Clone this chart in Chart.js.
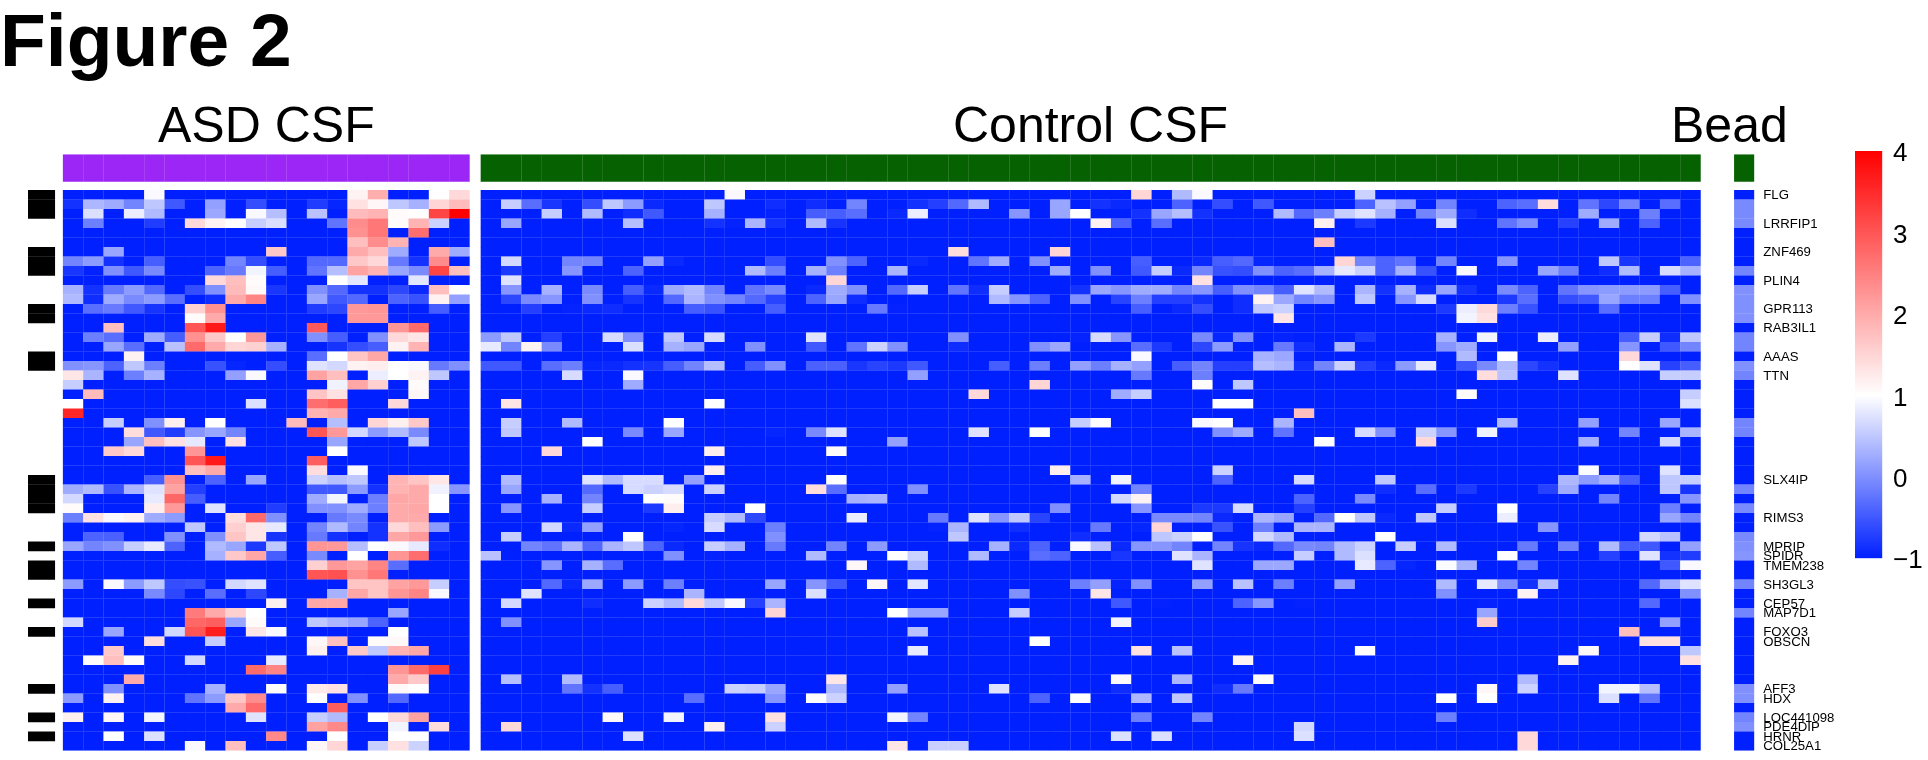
<!DOCTYPE html>
<html>
<head>
<meta charset="utf-8">
<title>Figure 2</title>
<script src="https://cdn.jsdelivr.net/npm/chart.js@4"></script>
<style>
body { margin: 0; background: #fff; width: 1928px; height: 760px; overflow: hidden; position: relative; font-family: "Liberation Sans", sans-serif; color: #000; }
canvas { position: absolute; left: 0; top: 0; }
.txt { position: absolute; line-height: 1; white-space: nowrap; }
</style>
</head>
<body>
<canvas id="heatmap" width="1928" height="760"></canvas>
<canvas id="colorKey" width="1928" height="760"></canvas>
<div class="txt" style="left:0;top:2.5px;font-size:75px;font-weight:bold">Figure 2</div>
<div class="txt" style="left:158px;top:100px;font-size:50px">ASD CSF</div>
<div class="txt" style="left:953px;top:100px;font-size:50px">Control CSF</div>
<div class="txt" style="left:1671px;top:100px;font-size:50px">Bead</div>
<script>
// values not listed in a row sit at the bottom of the colour scale
var floorValue = -1;
var rowCount = 59;
var asdColumns = 20;
var controlColumns = 60;

var geneLabels = ['FLG', 'LRRFIP1', 'ZNF469', 'PLIN4', 'GPR113', 'RAB3IL1', 'AAAS', 'TTN', 'SLX4IP', 'RIMS3', 'MPRIP', 'SPIDR', 'TMEM238', 'SH3GL3', 'CEP57', 'MAP7D1', 'FOXO3', 'OBSCN', 'AFF3', 'HDX', 'LOC441098', 'PDE4DIP', 'HRNR', 'COL25A1'];
var geneRows = [0, 3, 6, 9, 12, 14, 17, 19, 30, 34, 37, 38, 39, 41, 43, 44, 46, 47, 52, 53, 55, 56, 57, 58];
var markedRows = [0, 1, 2, 6, 7, 8, 12, 13, 17, 18, 30, 31, 32, 33, 37, 39, 40, 43, 46, 52, 55, 57];
var keyTicks = [-1, 0, 1, 2, 3, 4];

// one {column: value} per row
var asdValues = [
{4:.95,14:1.15,15:1.95,18:1,19:1.45},
{0:-.85,1:.35,2:.25,3:-.1,4:.5,5:-.5,7:.15,9:-.6,12:-.75,13:-.95,14:1.35,15:1.1,16:.5,17:.3,18:1.5,19:1.8},
{1:.72,3:.85,4:.38,7:.22,9:.95,10:.42,12:.45,14:1.8,15:1.9,16:1.05,17:1,18:3.2,19:4},
{1:-.15,4:-.75,6:1.45,7:1.15,8:1,9:.55,10:.7,13:-.25,14:2.35,15:2.6,16:1.05,17:1.9,18:.6},
{14:2.3,15:2.6,17:2.7},
{14:1.75,15:2.35,16:1.9},
{2:.2,10:1.65,14:2,15:1.75,16:.25,18:2,19:.25},
{0:-.1,1:.1,2:-.85,4:-.45,8:-.1,9:-.6,12:-.35,13:-.35,14:1.65,15:1.45,16:-.2,17:-.85,18:2.35},
{0:-.8,1:-.98,2:0,3:-.5,4:-.05,7:-.4,8:-.2,9:.9,10:-.45,12:-.25,13:.42,14:2.1,15:1.9,16:.2,17:-.05,18:3.2,19:1.75},
{7:1.45,8:1.75,9:1.05,13:1,14:.78,17:.78},
{0:.3,1:-.85,2:-.2,3:.1,4:-.35,6:-.6,7:0,8:1.8,9:1.08,10:-.8,12:0,13:-.35,14:-.85,15:-.85,16:-.65,17:-.92,18:1.75,19:1},
{0:.38,1:-.88,2:.25,3:-.05,4:.1,5:-.3,7:-.88,8:2,9:2.45,12:.2,13:-.5,14:-.35,16:-.4,17:-.55,18:1.15,19:.15},
{1:-.3,2:-.2,3:-.5,4:-.82,6:1.55,7:2.3,12:-.75,13:-.65,14:2.2,15:2.25,18:-.45},
{6:1.05,7:2,14:2.2,15:2.2},
{2:1.75,6:3,7:3.7,12:2.95,16:2.25,17:2.75},
{1:-.15,2:-.3,4:.25,5:-.45,6:2.3,7:1.65,8:1,9:2.2,12:0,13:-.45,15:0,16:1.45,17:1.3},
{2:.2,3:-.3,5:.45,6:2.75,7:2,8:1.5,9:1.55,10:.3,13:-.82,14:-.6,15:-.45,16:1.15,17:1.9},
{3:1.15,12:-.3,13:1,14:1.7,15:2.05},
{0:0,1:.05,2:-.4,3:.5,4:-.15,7:-.55,8:-.95,10:-.6,12:.75,13:.65,14:1.15,15:1.2,16:1,17:.95,18:-.2,19:0},
{0:1.3,1:.33,3:-.15,4:.3,8:.15,9:.95,12:2.1,13:1.75,15:.85,16:1,17:1.15,18:.5},
{0:.55,13:.88,14:2.05,15:1.55,17:1.05},
{1:1.8,12:1.7,13:1.35,17:1.1},
{0:1,9:.72,12:2.7,13:2.9,16:1.45},
{0:3.55,12:1.9,13:2},
{2:.55,4:0,5:1.18,7:1,11:1.8,13:.42,15:1.5,16:1.18,17:1.65},
{3:1.4,4:-.5,5:-.75,6:.05,7:.2,8:-.1,12:3,13:2.2,14:.65,15:.1,16:.38,17:-.05},
{3:.2,4:1.75,5:1.35,6:.8,8:1.35,13:.2,17:.5},
{2:1.65,3:1.45,6:2.25,13:1},
{6:3,7:3.7,12:2.9},
{6:1.75,7:2,12:1.4,14:.95},
{4:-.45,5:2.3,7:-.4,9:.2,12:.6,13:.42,14:.5,16:1.9,17:1.7,18:1.3},
{0:.25,1:.38,2:-.55,3:.33,4:.75,5:2.1,6:-.72,12:-.5,13:-.5,14:.1,15:-.85,16:1.9,17:2,18:.88,19:.05},
{0:.65,4:.82,5:2.8,6:-.45,12:.25,13:.9,15:-.15,16:2.05,17:2,18:1},
{0:1.05,4:1.2,5:2.2,7:.75,10:-.75,12:0,13:0,14:.25,15:-.15,16:2,17:2.05,18:1},
{0:-.15,1:1.35,2:.95,3:1.15,4:.25,5:.1,8:1.4,9:2.75,10:0,13:-.2,14:-.05,16:2,17:2},
{6:.5,8:1.55,9:1.3,10:.8,12:-.1,13:.38,14:-.1,15:-.85,16:1.45,17:1.75,18:.1},
{1:-.4,2:-.42,5:0,7:0,8:1.7,9:1.3,10:-.82,12:-.2,13:-.85,15:-.85,16:2.05,17:2.2},
{0:.2,1:-.1,2:0,3:.55,4:.82,5:-.4,7:.38,8:.2,9:-.78,10:.5,12:2.25,13:2.2,14:.42,15:1,16:.95,17:.8,18:-.88},
{7:.3,8:1.65,9:2.05,10:-.45,12:-.05,14:1,16:2.25,17:2.7},
{12:1.55,13:2.2,14:2.1,15:2.45,16:-.3},
{12:3,13:3.05,14:2.3,15:2.6},
{0:.1,2:.95,3:.1,4:.5,5:-.6,6:-.55,8:.65,9:.75,14:1.7,15:1.7,16:2.1,17:2.2,18:.55},
{4:-.05,5:-.65,7:-.3,9:-.65,13:.3,14:2.05,15:1.7,16:2.25,17:2.45,18:.95},
{10:1.18,12:2.05,13:2.05},
{6:2.55,7:2,8:1.55,9:1,16:.2},
{0:.65,6:2.8,7:2.9,8:.2,9:1.05,12:.5,13:.33,14:.2,15:-.4},
{2:.2,5:.65,6:3,7:3.65,9:1.3,10:.95,16:1},
{4:1.4,7:.55,12:1.1,13:1.75,15:1.05,16:1.08},
{2:1.65,12:1.18,14:1.65,15:.5,16:1.9,17:2.05},
{1:1.05,2:1.75,3:1.05,6:.65,10:.82},
{9:2.75,10:2.45,16:2.25,17:2.75,18:3.25},
{3:2,16:2,17:1.65},
{2:0,7:.3,10:1.03,12:1.25,13:1.35,16:1.08,17:1},
{0:.1,2:1.15,6:-.25,7:.1,8:1.7,9:2.35,12:1,14:0,16:-.35},
{8:2,9:2.75,13:2.9},
{0:1.18,2:1.1,4:.9,9:.75,12:.55,13:.38,15:1,16:1.45,17:2.1},
{12:2.1,13:2.4,16:.9,18:1.4},
{2:1,4:.72,10:2.4,13:1,16:1,17:1},
{6:.95,8:1.75,12:1.1,13:1.5,15:.55,16:1.35,17:.6}
];

var controlValues = [
{12:.95,32:1.5,34:.38,35:.95,43:.6},
{1:.55,2:-.3,3:-.8,5:-.6,6:.5,7:.1,8:-.92,11:.5,14:-.88,16:-.88,18:-.1,21:-.85,22:-.72,23:-.35,24:.38,28:.2,30:-.85,31:-.92,34:-.4,36:-.6,38:-.5,43:-.4,44:.45,45:.15,47:-.1,50:-.4,51:-.3,52:1.4,54:-.25,55:-.65,56:-.1,58:-.3},
{3:.55,5:.38,7:-.88,8:-.5,11:.3,14:-.97,16:-.45,17:-.45,18:-.3,20:-.92,21:.85,26:.05,28:.2,29:1,32:-.85,33:.2,34:.42,35:-.85,39:.38,40:-.35,41:-.15,42:.55,43:.75,44:.3,46:-.1,47:.25,48:-.88,54:.25,57:-.15},
{1:.2,7:.42,11:-.85,12:-.97,13:.33,14:-.85,16:.38,17:-.82,30:1.15,31:-.4,33:-.3,41:1.18,43:-.78,47:.72,50:-.25,51:0,53:-.7,55:.25,57:-.4},
{},
{41:1.75},
{23:1.4,28:1.5},
{1:.65,4:-.1,5:-.1,8:.15,9:-.92,14:-.6,17:0,18:-.4,21:-.92,24:-.25,25:.25,27:0,32:-.45,35:-.92,36:-.45,37:-.35,38:-.95,42:1.5,43:-.1,44:-.4,45:-.25,47:-.1,50:.05,55:.5,56:-.8,59:-.4},
{1:-.78,4:.05,7:-.4,13:.38,14:-.15,16:.3,17:-.15,20:.33,28:.25,30:0,32:-.5,33:.55,34:-.92,35:-.1,36:-.55,37:-.6,38:0,39:-.4,40:-.3,41:.3,42:.8,43:.6,44:-.4,45:.3,46:-.55,48:.95,52:.2,53:-.15,55:-.88,56:.38,58:.68,59:.3},
{1:.75,17:1.5,35:1.35},
{1:.05,3:.3,5:-.05,7:-.45,8:-.92,9:.25,10:.38,11:-.1,13:-.25,14:-.05,16:-.92,17:.25,18:0,20:-.35,21:.55,23:-.25,24:-.88,25:.55,29:-.85,30:.2,31:.05,32:.25,33:.25,34:-.1,35:.05,36:-.45,37:0,38:-.1,39:-.45,40:.75,41:.38,43:.33,44:-.85,45:.3,46:-.88,47:.2,48:-.85,50:-.05,51:-.4,53:-.25,54:.05,55:.1,56:.1,57:.1,58:-.45},
{1:-.65,2:-.05,3:.05,5:0,7:-.82,9:-.35,10:.33,11:0,12:-.1,13:-.35,14:-.68,16:-.4,17:.2,18:-.88,25:.38,26:.05,27:-.4,29:0,31:-.68,32:-.15,33:-.72,34:-.72,35:-.85,37:-.88,38:1.15,39:.22,40:-.1,41:.05,43:.5,45:.05,46:.68,50:-.78,51:-.3,53:-.6,54:-.5,55:.2,56:-.15,57:-.15,59:0},
{2:-.72,4:-.97,5:-.92,6:-.88,10:-.45,11:-.55,14:-.45,19:-.2,20:-.98,32:-.45,34:-.92,35:-.6,37:-.88,38:.5,39:.6,47:-.78,48:.85,49:1.45,50:-.15,51:-.55,55:-.3},
{39:1.3,48:.9,49:1.35},
{},
{0:.1,1:.5,3:-.72,6:.68,7:0,9:.5,11:.68,16:.75,23:0,29:-.97,30:.68,31:.05,35:-.05,36:-.95,37:0,39:-.97,43:-.78,47:.3,49:.9,52:.85,56:-.45,57:.55,58:-.88,59:.5},
{0:.82,1:-.1,2:1.15,3:-.05,7:.72,9:.3,10:.2,13:0,16:-.5,18:-.25,19:.6,20:0,23:-.88,27:0,28:.22,32:-.3,33:-.78,35:-.65,36:.1,39:-.2,40:-.88,42:.33,47:.05,48:.25,53:.15,56:.05,58:-.5,59:-.1},
{32:.95,38:.3,39:.22,48:.38,50:1,56:1.45},
{0:-.5,1:-.5,3:-.3,4:-.15,5:-.95,6:-.92,7:-.85,8:-.82,9:-.45,10:-.1,11:.42,13:-.45,14:0,16:-.42,17:-.42,18:-.8,19:-.68,20:-.78,21:-.5,25:-.45,27:-.15,29:.15,30:-.15,31:.3,32:.15,34:-.45,35:-.1,36:-.72,37:-.72,38:.42,39:.33,40:-.85,41:-.1,42:.6,43:-.7,44:-.92,45:.1,46:.82,48:-.5,49:-.05,50:.38,51:-.65,52:-.85,56:1,57:.75,58:-.7,59:-.45},
{4:.68,7:.95,21:.15,32:-.2,35:-.15,49:1.4,50:.45,53:.75,58:.55,59:.55},
{7:.25,27:1.5,35:1.03,37:.5},
{24:1.45,31:.25,32:.55,48:1.05,59:.55},
{1:1.3,11:1,36:1,37:1,59:.72},
{40:1.75},
{1:.55,4:.38,9:1,29:.55,30:1,35:.95,36:1,39:.33,50:.38,54:.15,58:.2},
{1:.5,7:-.05,9:.2,14:-.95,16:-.05,17:.75,24:.75,27:1,36:0,37:.25,39:-.25,43:.68,44:0,46:.6,47:.05,49:.88,56:-.1,59:.33},
{5:1,20:.15,41:1,46:1.45,54:.3,58:.65},
{3:1.45,11:1.2,17:1.05},
{},
{11:1.2,28:1.2,36:.6,54:.97,58:.75},
{1:.38,5:.75,6:.38,7:.68,8:.68,10:.15,17:1,29:.3,31:.9,36:-.4,40:.68,44:.5,53:.35,54:.1,55:.3,56:-.45,58:.5,59:.55},
{1:.2,5:-.35,7:.68,8:.6,9:.68,11:.6,16:1.4,17:-.3,21:0,32:-.1,44:-.88,46:-.3,48:-.78,52:-.7,53:.25,58:.5,59:-.82},
{3:.3,5:-.1,8:1,9:1.05,18:.3,19:.33,31:.65,32:1.15,40:-.4,43:-.05,55:-.1,59:.05},
{1:.05,5:.55,8:-.78,9:1.2,13:1,28:0,32:.05,35:-.78,36:-.78,37:.68,40:-.72,47:.55,50:1,58:-.15},
{11:.55,12:.38,13:-.65,18:.85,22:-.2,24:.75,25:.05,26:.5,27:-.68,33:-.05,34:-.05,35:-.1,36:-.92,38:.33,39:.2,41:-.35,42:1,43:.5,44:-.92,46:.5,50:.85,58:.2,59:-.1},
{3:.65,4:-.92,5:.15,9:-.95,11:.68,14:-.15,22:-.97,23:.33,26:-.88,30:-.2,32:-.95,33:1.5,36:-.55,38:-.15,40:.33,41:.33,52:.05},
{1:.55,7:1,14:0,23:.5,29:-.88,33:.5,34:.6,35:1,38:.65,39:.38,44:1,57:.65,58:.45},
{2:-.1,3:-.25,4:.33,5:-.35,6:.33,7:.5,8:-.4,9:-.92,11:.55,12:.3,14:-.2,17:-.1,19:.1,25:.3,26:-.92,27:-.4,29:.95,30:.45,31:-.92,32:.05,33:.05,34:-.1,36:-.1,37:-.82,38:-.92,39:-.35,40:-.05,41:-.1,42:.38,43:.6,45:.55,47:.38,51:-.2,53:-.1,55:.38,56:-.45,57:-.5,59:.15},
{0:.45,9:0,11:-.97,16:.38,20:1,21:.6,24:.38,27:-.3,28:-.4,31:-.8,34:.75,35:.33,40:.55,42:.38,43:.72,50:1,55:-.7,57:.75,58:-.85,59:-.75},
{3:.05,5:.3,6:-.3,18:1.1,21:.38,35:.75,38:.22,39:.22,43:.82,44:-.4,45:-.95,47:.97,48:.3,51:-.1,58:-.5,59:.95},
{},
{3:-.35,4:-.92,5:.22,7:.1,9:-.15,14:.2,16:.05,17:-.5,19:1.1,21:.78,29:-.15,30:.15,31:-.97,32:0,35:.15,37:.45,39:-.15,42:.15,47:.38,49:.8,50:0,51:-.85,52:.42,57:-.35,58:.3,59:.75},
{2:.75,10:.33,16:.72,26:0,30:1.3,47:0,51:1.15,59:0},
{1:.65,5:-.88,8:.6,9:.38,10:1.45,11:.52,12:.95,13:-.72,14:.33,31:-.5,33:-.98,37:-.4,38:.05,40:-.98,49:-.98,57:-.35},
{14:1.5,20:1,21:.2,22:.2,26:.55,49:.2},
{1:0,31:.9,49:1.6,58:.15},
{21:.45,56:1.75},
{27:1,57:1.35,58:1.35},
{21:.82,32:1.35,34:.45,43:1,54:1.08,59:.5},
{37:1.15,53:1.15,59:1.35},
{},
{1:.42,4:.38,17:1.3,31:1.05,34:.35,38:1.05,51:.38},
{4:-.25,5:-.85,6:-.45,12:.6,13:.55,14:.2,17:.38,20:.15,25:.75,31:-.88,36:-.88,37:-.2,49:1.1,51:.6,55:.9,56:.9,57:.42},
{10:-.3,14:.05,16:1,17:.6,27:-.4,29:1,32:.35,34:.5,47:1,49:1,55:.72,57:-.25},
{},
{6:1.08,9:.9,14:1.35,20:.9,21:-.1,32:-.15,35:-.1,47:-.15},
{1:1.45,11:1.18,14:.6,40:.65},
{7:.72,31:.72,33:.72,40:.72,51:1.45},
{20:1.3,22:.58,23:.58,51:1.45}
];

var beadValues = [-1, -.05, -.05, -.05, -1, -1, -1, -1, -.1, -1, 0, 0, 0, 0, -1, -.1, -.1, -1, 0, -.1, -1, -1, -1, -1, -.1, -.1, -1, -1, -1, -1, -1, -.1, -1, -.05, -1, -1, -.05, 0, .05, -1, -1, -.1, -1, -1, -.1, -1, -1, -1, -1, -1, -1, -1, 0, 0, -1, -.1, 0, -1, -1];

// layout in column / row units, one column is 20.33px and one row 9.5px
var cellWidth = 20.33;
var controlStart = 20.55;
var beadStart = 82.2;
var markCenter = -1.058;
var bandTop = -3.76;
var bandBottom = -0.87;

function cellColor(v) {
    var t;
    if (v <= 1) {
        t = (v + 1) / 2;
        return 'rgb(' + Math.round(255 * t) + ',' + Math.round(32 + 223 * t) + ',255)';
    }
    t = Math.min((v - 1) / 3, 1);
    var c = Math.round(255 * (1 - t));
    return 'rgb(255,' + c + ',' + c + ')';
}

var cells = [];
var bandAsd = [];
var bandGreen = [];

for (var c = 0; c < asdColumns; c++) {
    bandAsd.push({ x: c + 0.5, y: [bandTop, bandBottom] });
    for (var r = 0; r < rowCount; r++) {
        var v = asdValues[r][c];
        cells.push({ x: c + 0.5, y: [r, r + 1], v: v === undefined ? floorValue : v });
    }
}
for (var c2 = 0; c2 < controlColumns; c2++) {
    bandGreen.push({ x: controlStart + c2 + 0.5, y: [bandTop, bandBottom] });
    for (var r2 = 0; r2 < rowCount; r2++) {
        var v2 = controlValues[r2][c2];
        cells.push({ x: controlStart + c2 + 0.5, y: [r2, r2 + 1], v: v2 === undefined ? floorValue : v2 });
    }
}
bandGreen.push({ x: beadStart + 0.5, y: [bandTop, bandBottom] });
beadValues.forEach(function(b, i) {
    cells.push({ x: beadStart + 0.5, y: [i, i + 1], v: b });
});

var barStyle = { grouped: false, barThickness: cellWidth, borderWidth: 0, inflateAmount: 0.1 };

new Chart(document.getElementById('heatmap').getContext('2d'), {
    type: 'bar',
    data: {
        datasets: [
            Object.assign({ label: 'expression', data: cells, backgroundColor: function(ctx) { return ctx.raw ? cellColor(ctx.raw.v) : '#0020ff'; } }, barStyle),
            Object.assign({ label: 'ASD CSF', data: bandAsd, backgroundColor: '#9b26f5' }, barStyle),
            Object.assign({ label: 'Control CSF', data: bandGreen, backgroundColor: '#066200' }, barStyle),
            Object.assign({ label: 'marked', data: markedRows.map(function(r) { return { x: markCenter, y: [r, r + 1] }; }), backgroundColor: '#000' }, barStyle, { barThickness: 27 })
        ]
    },
    options: {
        responsive: false,
        animation: false,
        layout: { padding: { left: 28, top: 154.3, right: 53.7, bottom: 9.3 } },
        plugins: { legend: { display: false }, tooltip: { enabled: false } },
        scales: {
            x: { type: 'linear', display: false, offset: false, min: -1.72, max: 83.19 },
            y: {
                type: 'linear',
                position: 'right',
                reverse: true,
                min: bandTop,
                max: rowCount,
                grid: { display: false, drawTicks: false },
                border: { display: false },
                afterBuildTicks: function(scale) {
                    scale.ticks = geneRows.map(function(r) { return { value: r + 0.5 }; });
                },
                afterFit: function(scale) {
                    scale.width = 120;
                    scale.paddingTop = 0;
                    scale.paddingBottom = 0;
                },
                ticks: {
                    autoSkip: false,
                    padding: 9,
                    labelOffset: 0.7,
                    color: '#000',
                    font: { family: 'Liberation Sans', size: 13.2 },
                    callback: function(value) { return geneLabels[geneRows.indexOf(value - 0.5)]; }
                }
            }
        }
    }
});

new Chart(document.getElementById('colorKey').getContext('2d'), {
    type: 'bar',
    data: {
        labels: ['key'],
        datasets: [{
            data: [[keyTicks[0], keyTicks[keyTicks.length - 1]]],
            barPercentage: 1,
            categoryPercentage: 1,
            borderWidth: 0,
            backgroundColor: function(ctx) {
                var area = ctx.chart.chartArea;
                if (!area) return '#0020ff';
                var grad = ctx.chart.ctx.createLinearGradient(0, area.bottom, 0, area.top);
                grad.addColorStop(0, cellColor(-1));
                grad.addColorStop(2 / 5, cellColor(1));
                grad.addColorStop(1, cellColor(4));
                return grad;
            }
        }]
    },
    options: {
        responsive: false,
        animation: false,
        layout: { padding: { left: 1855, top: 151, right: 5.7, bottom: 201.7 } },
        plugins: { legend: { display: false }, tooltip: { enabled: false } },
        scales: {
            x: { display: false },
            y: {
                position: 'right',
                min: -1,
                max: 4,
                grid: { display: false, drawTicks: false },
                border: { display: false },
                afterFit: function(scale) {
                    scale.width = 40;
                    scale.paddingTop = 0;
                    scale.paddingBottom = 0;
                },
                afterBuildTicks: function(scale) {
                    scale.ticks = keyTicks.map(function(t) { return { value: t }; });
                },
                ticks: {
                    autoSkip: false,
                    padding: 10.7,
                    labelOffset: 3,
                    color: '#000',
                    font: { family: 'Liberation Sans', size: 26 },
                    callback: function(value) { return value < 0 ? '\u2212' + Math.abs(value) : String(value); }
                }
            }
        }
    }
});
</script>
</body>
</html>
